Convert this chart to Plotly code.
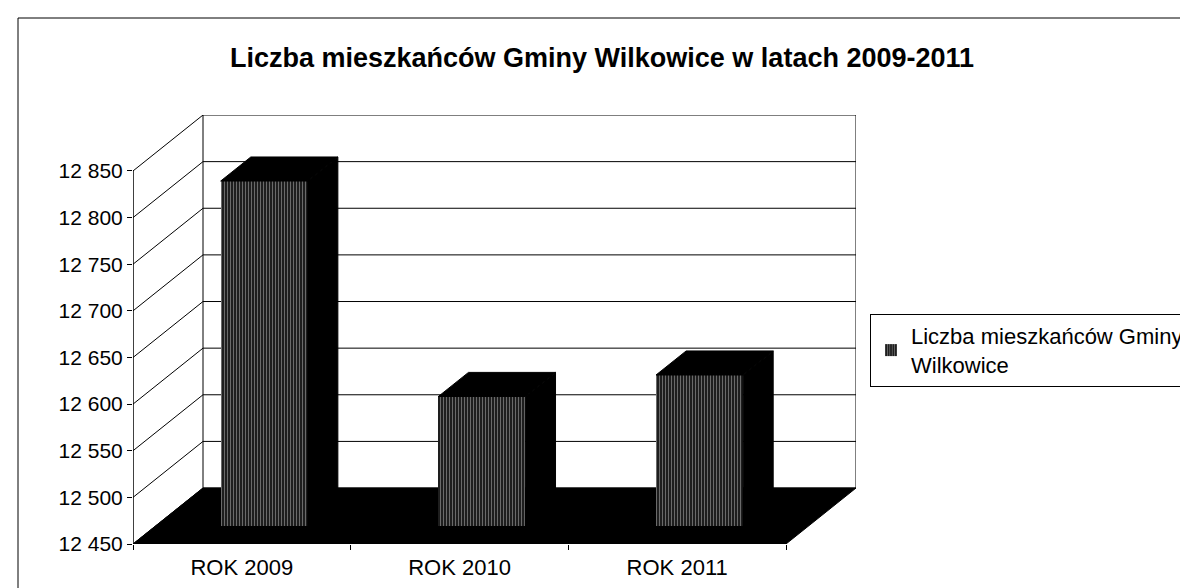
import plotly.graph_objects as go

# ---- data ----
categories = ["ROK 2009", "ROK 2010", "ROK 2011"]
values = [12820, 12589, 12612]
tick_values = [12450, 12500, 12550, 12600, 12650, 12700, 12750, 12800, 12850]
tick_labels = ["12 450", "12 500", "12 550", "12 600", "12 650", "12 700", "12 750", "12 800", "12 850"]
series_name = "Liczba mieszkańców Gminy<br>Wilkowice"
title_text = "Liczba mieszkańców Gminy Wilkowice w latach 2009-2011"

# ---- pseudo-3D geometry (styling, in axis units) ----
Y_MIN, Y_MAX = tick_values[0], tick_values[-1]
NCAT = len(categories)
DX, DY = 0.3216, 60.0      # depth offset of back wall
FRONT_F = 0.32             # depth of bar front face (fraction of DX/DY)
BAR_D = 0.43               # bar depth (fraction)
BAR_W = 0.40               # bar width (category units)

W, H = 1188, 588
L, R, T, B = 125, 340, 107, 52
PW, PH = W - L - R, H - T - B
FONT = "Liberation Sans, Arial, sans-serif"

fig = go.Figure()

# back wall grid + side wall diagonals (as shapes below traces)
path = ""
for t in tick_values:
    path += f"M 0,{t} L {DX},{t+DY} L {NCAT+DX},{t+DY} "
path += f"M {DX},{Y_MIN+DY} L {DX},{Y_MAX+DY} "
path += f"M {NCAT+DX},{Y_MIN+DY} L {NCAT+DX},{Y_MAX+DY} "
shapes = [
    dict(type="path", xref="x", yref="y", path=path, line=dict(color="black", width=1), layer="below"),
    # floor
    dict(type="path", xref="x", yref="y",
         path=f"M 0,{Y_MIN} L {NCAT},{Y_MIN} L {NCAT+DX},{Y_MIN+DY} L {DX},{Y_MIN+DY} Z",
         fillcolor="black", line=dict(color="black", width=1), layer="below"),
    # front value axis
    dict(type="line", xref="x", yref="y", x0=0, x1=0, y0=Y_MIN, y1=Y_MAX,
         line=dict(color="black", width=1.5), layer="above"),
    # outer chart border
    dict(type="rect", xref="paper", yref="paper",
         x0=(10 - L) / PW, x1=(W + 20 - L) / PW,
         y0=(H - B - (H + 20)) / PH, y1=(H - B - 10) / PH,
         line=dict(color="black", width=1), layer="below"),
]

# bar front faces
xc = [i + 0.5 + FRONT_F * DX for i in range(NCAT)]
base = Y_MIN + FRONT_F * DY
fig.add_trace(go.Bar(
    x=xc, y=[v - Y_MIN for v in values], base=base, width=BAR_W,
    name=series_name, showlegend=True,
    marker=dict(color="#1a1a1a", line=dict(width=0),
                pattern=dict(shape="|", fgcolor="#c0c0c0", bgcolor="#151515",
                             size=3, solidity=0.4, fillmode="overlay")),
    hoverinfo="skip",
))

# bar top and side faces
bdx, bdy = BAR_D * DX, BAR_D * DY
for x, v in zip(xc, values):
    x0, x1 = x - BAR_W / 2, x + BAR_W / 2
    top = v + FRONT_F * DY
    fig.add_trace(go.Scatter(
        x=[x1, x1, x1 + bdx, x1 + bdx, x1], y=[base, top, top + bdy, base + bdy, base],
        fill="toself", fillcolor="black", mode="lines", line=dict(color="black", width=1),
        showlegend=False, hoverinfo="skip"))
    fig.add_trace(go.Scatter(
        x=[x0, x1, x1 + bdx, x0 + bdx, x0], y=[top, top, top + bdy, top + bdy, top],
        fill="toself", fillcolor="black", mode="lines", line=dict(color="black", width=1),
        showlegend=False, hoverinfo="skip"))

fig.update_layout(
    width=W, height=H, autosize=False,
    margin=dict(l=L, r=R, t=T, b=B, autoexpand=False),
    paper_bgcolor="white", plot_bgcolor="white",
    font=dict(family=FONT, color="black", size=21),
    title=dict(text=f"<b>{title_text}</b>", x=0.5, xref="container", xanchor="center",
               y=1 - 50 / H, yref="container", yanchor="middle",
               font=dict(family=FONT, size=27, color="black")),
    xaxis=dict(range=[0, NCAT + DX], tickvals=[i + 0.5 for i in range(NCAT)], ticktext=categories,
               showgrid=False, zeroline=False, showline=False, ticks="",
               tickfont=dict(size=22), ticklabelstandoff=8,
               minor=dict(tick0=0, dtick=1, ticks="outside", ticklen=5, tickcolor="black")),
    yaxis=dict(range=[Y_MIN, Y_MAX + DY], tickvals=tick_values, ticktext=tick_labels,
               showgrid=False, zeroline=False, showline=False, ticks="outside", ticklen=5,
               tickcolor="black", tickfont=dict(size=21)),
    legend=dict(x=(862 - L) / PW, y=(H - B - 306) / PH, xanchor="left", yanchor="top",
                bordercolor="black", borderwidth=1, bgcolor="white", font=dict(size=22),
                tracegroupgap=0),
    shapes=shapes,
    bargap=0,
)

fig.write_html("out.html")
